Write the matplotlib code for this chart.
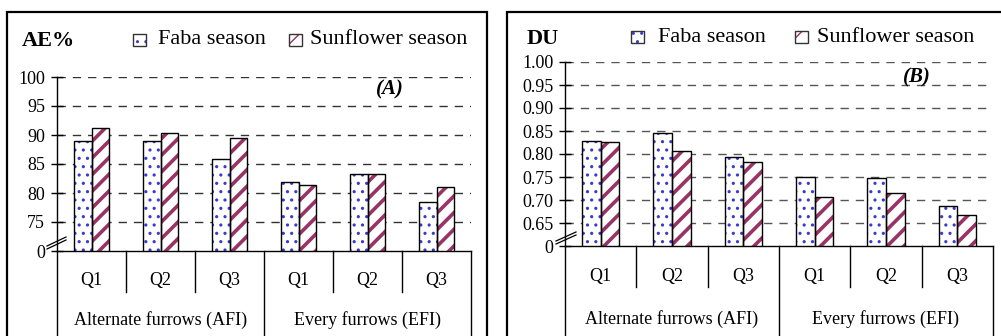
import matplotlib
matplotlib.use('Agg')
import matplotlib.pyplot as plt
from matplotlib.patches import Rectangle
from matplotlib.lines import Line2D
import matplotlib.transforms as mtransforms
import numpy as np

plt.rcParams['font.family'] = ['Liberation Serif', 'DejaVu Serif']

# data
quarters = ['Q1', 'Q2', 'Q3', 'Q1', 'Q2', 'Q3']
groups = ['Alternate furrows (AFI)', 'Every furrows (EFI)']
series = ['Faba season', 'Sunflower season']
ae_faba = [89.0, 89.0, 85.9, 81.9, 83.3, 78.5]
ae_sun = [91.2, 90.4, 89.4, 81.3, 83.3, 81.1]
du_faba = [0.829, 0.846, 0.794, 0.750, 0.747, 0.687]
du_sun = [0.827, 0.807, 0.783, 0.707, 0.716, 0.667]

ae_ticks = [70, 75, 80, 85, 90, 95, 100]
ae_ticklabels = ['0', '75', '80', '85', '90', '95', '100']
du_ticks = [0.60, 0.65, 0.70, 0.75, 0.80, 0.85, 0.90, 0.95, 1.00]
du_ticklabels = ['0'] + ['%.2f' % t for t in du_ticks[1:]]

W, H = 1001, 336
FABA_C = '#3a3ad0'
SUN_C = '#993366'

fig = plt.figure(figsize=(W / 100, H / 100), dpi=100)


def fx(x):
    return x / W


def fy(y):
    return 1 - y / H


def add_ax(x0, ytop, x1, ybot):
    return fig.add_axes([fx(x0), fy(ybot), (x1 - x0) / W, (ybot - ytop) / H])


def draw_panel(ax, faba, sun, ticks, ticklabels, sep_short, ax_px, gridcol):
    x = np.arange(len(quarters))
    w = 0.26
    ax.set_axisbelow(True)
    for vals, off, col, hatch, hlw in [(faba, -w / 2, FABA_C, '..', 1.1), (sun, w / 2, SUN_C, '//', 2.6)]:
        with plt.rc_context({'hatch.linewidth': hlw}):
            b = ax.bar(x + off, vals, w, color='white', edgecolor=col, hatch=hatch, linewidth=0, zorder=2)
        for p in b:
            if hasattr(p, 'set_hatch_linewidth'):
                p.set_hatch_linewidth(hlw)
        ax.bar(x + off, vals, w, fill=False, edgecolor='black', linewidth=1.0, zorder=3)
    ax.set_ylim(ticks[0], ticks[-1])
    ax.set_xlim(-0.5, len(quarters) - 0.5)
    ax.set_yticks(ticks)
    ax.set_yticklabels(ticklabels, fontsize=13)
    ax.set_xticks([])
    ax.tick_params(axis='y', direction='inout', length=9, width=1, pad=4)
    for s in ['top', 'right']:
        ax.spines[s].set_visible(False)
    for s in ['left', 'bottom']:
        ax.spines[s].set_linewidth(1.0)
    for t in ticks[1:]:
        ax.axhline(t, color=gridcol, lw=1.0, dashes=(6, 5), zorder=0)

    # category separators under the axis
    x0, ytop, x1, ybot = ax_px
    trans = mtransforms.blended_transform_factory(ax.transData, ax.transAxes)
    y_short = -(sep_short - ybot) / (ybot - ytop)
    y_long = -(H + 5 - ybot) / (ybot - ytop)
    n = len(quarters)
    for i in range(n + 1):
        xs = i - 0.5
        yb = y_long if i in (0, n // 2, n) else y_short
        ax.add_line(Line2D([xs, xs], [0, yb], transform=trans, color='black', lw=1.0, clip_on=False))
    return trans


def legend_row(x_patch1, x_text1, x_patch2, x_text2, yc, size):
    for xp, xt, col, hatch, lab in [(x_patch1, x_text1, FABA_C, '..', series[0]),
                                    (x_patch2, x_text2, SUN_C, '/', series[1])]:
        r = Rectangle((fx(xp), fy(yc + 6)), 13 / W, 12 / H, transform=fig.transFigure,
                      facecolor='white', edgecolor=col, hatch=hatch, lw=0)
        fig.add_artist(r)
        fig.add_artist(Rectangle((fx(xp), fy(yc + 6)), 13 / W, 12 / H, transform=fig.transFigure,
                                 fill=False, edgecolor='#333333', lw=1.0))
        fig.text(fx(xt), fy(yc), lab, fontsize=size, va='center', ha='left')


def break_marks(x1, y1, x2, y2):
    for d in (0, 3):
        fig.add_artist(Line2D([fx(x1), fx(x2)], [fy(y1 + d), fy(y2 + d)], color='black', lw=0.9))


# outer frames
fig.add_artist(Rectangle((fx(7), fy(H + 10)), 480 / W, (H + 10 - 12) / H, transform=fig.transFigure,
                         fill=False, edgecolor='black', lw=1.6))
fig.add_artist(Rectangle((fx(507), fy(H + 10)), 520 / W, (H + 10 - 12) / H, transform=fig.transFigure,
                         fill=False, edgecolor='black', lw=1.6))

# panel A
pxA = (57, 77, 471, 251)
axA = add_ax(*pxA)
trA = draw_panel(axA, ae_faba, ae_sun, ae_ticks, ae_ticklabels, 292, pxA, '#333333')
for i, q in enumerate(quarters):
    axA.text(i, -(281 - 251) / 174, q, transform=trA, ha='center', va='center', fontsize=13)
for j, g in enumerate(groups):
    axA.text(1 + 3 * j, -(320 - 251) / 174, g, transform=trA, ha='center', va='center', fontsize=13)
fig.text(fx(22), fy(41), 'AE%', fontsize=16, fontweight='bold', va='center', ha='left')
legend_row(133, 158, 289, 310, 40, 16)
fig.text(fx(390), fy(89), '(A)', fontsize=15, fontweight='bold', fontstyle='italic', ha='center', va='center')
break_marks(47, 246, 66, 237)

# panel B
pxB = (565, 62, 993, 246)
axB = add_ax(*pxB)
trB = draw_panel(axB, du_faba, du_sun, du_ticks, du_ticklabels, 287, pxB, '#555555')
for i, q in enumerate(quarters):
    axB.text(i, -(277 - 246) / 184, q, transform=trB, ha='center', va='center', fontsize=13)
for j, g in enumerate(groups):
    axB.text(1 + 3 * j, -(319 - 246) / 184, g, transform=trB, ha='center', va='center', fontsize=13)
fig.text(fx(527), fy(39), 'DU', fontsize=16, fontweight='bold', va='center', ha='left')
legend_row(631, 658, 795, 817, 37, 16)
fig.text(fx(917), fy(77), '(B)', fontsize=15, fontweight='bold', fontstyle='italic', ha='center', va='center')
break_marks(556, 241, 576, 232)

fig.savefig('out.png', dpi=100)
